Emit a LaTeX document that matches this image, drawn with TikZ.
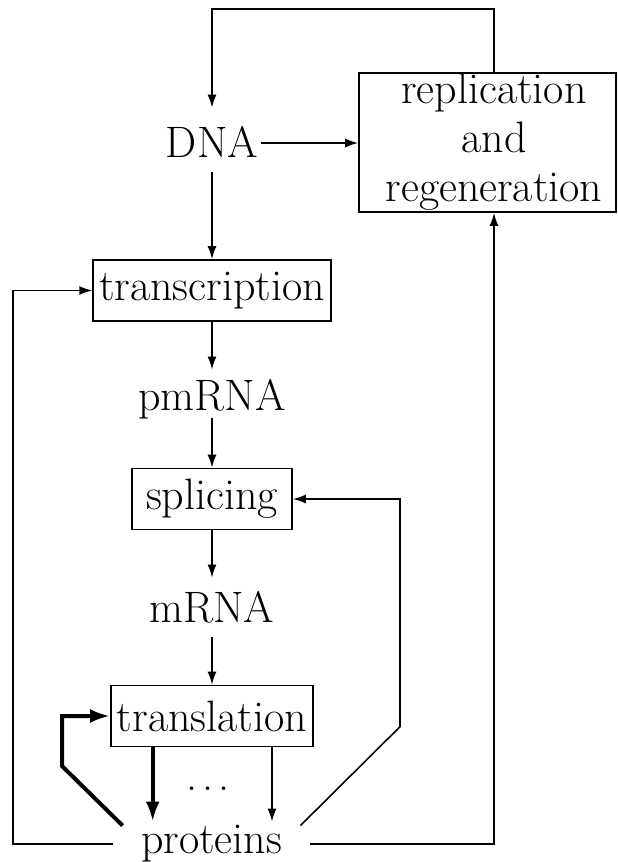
\documentclass[tikz,border=0pt]{standalone}
\usetikzlibrary{arrows.meta}
\begin{document}
\begin{tikzpicture}[x=0.5pt,y=-0.5pt,
  every node/.style={font=\fontsize{22}{24.5}\selectfont},
  procbox/.style={draw,line width=0.8pt,inner xsep=3pt,inner ysep=0pt,minimum height=30.5pt},
  term/.style={inner sep=0pt,anchor=base},
  flow/.style={line width=0.8pt,-{Latex[length=6.5pt,width=4.5pt]}},
  strong/.style={line width=2pt,-{Latex[length=10pt,width=7pt]}}]
\useasboundingbox (0,0) rectangle (617,862);

% main chain
\node[term,inner xsep=1.5pt,text height=24.5pt,text depth=7.5pt] (dna) at (212,157) {DNA};
\node[procbox] (transcription) at (212,290.5) {transcription};
\node[term,text height=20pt,text depth=4pt] (pmrna) at (212,410) {pmRNA};
\node[procbox,minimum width=80pt] (splicing) at (212,499) {splicing};
\node[term,text height=22pt,text depth=7.5pt] (mrna) at (212,622) {mRNA};
\node[procbox] (translation) at (212,716) {translation};
\node[term,minimum width=98.5pt,text height=15.5pt,text depth=4pt] (proteins) at (211.5,853) {proteins};
\node[term] (dots) at (208,790) {.\kern2.6pt.\kern2.6pt.};

% replication box
\node[draw,line width=0.8pt,inner sep=0pt,minimum width=128.5pt,minimum height=69.5pt] (rep) at (487.5,142.5) {};
\node[align=center,inner sep=0pt] (replabel) at (494,142) {replication\\and\\regeneration};

% helper points of the feedback loops
\coordinate (top) at (212,9);
\coordinate (leftc) at (13,844);
\coordinate (rbend) at (400,726.7);
\coordinate (lbend) at (62,766);
\coordinate (thickx) at (152.7,0);
\coordinate (thinx) at (272,0);
\coordinate (dnaout) at ([yshift=-1.5pt]dna.east);

% vertical chain
\draw[flow] (dna) -- (transcription);
\draw[flow] (transcription) -- (pmrna);
\draw[flow] (pmrna) -- (splicing);
\draw[flow] (splicing) -- (mrna);
\draw[flow] (mrna) -- (translation);

% DNA and replication
\draw[flow] (dnaout) -- (rep.west |- dnaout);
\draw[flow] (replabel.center |- rep.north) |- (top) -- (dna.north);
\draw[flow] ([yshift=4.5pt]proteins.base east) -| (replabel.center |- rep.south);

% feedback into transcription and splicing
\draw[flow] ([yshift=4.5pt]proteins.base west) -- (leftc) |- (transcription.west);
\draw[flow] ([xshift=-5pt,yshift=-2pt]proteins.north east) -- (rbend) -- (rbend |- splicing.east) -- (splicing.east);

% translation to proteins
\draw[strong] (translation.south -| thickx) -- (proteins.north -| thickx);
\draw[flow] (translation.south -| thinx) -- (proteins.north -| thinx);
\draw[strong] ([xshift=5pt,yshift=-2pt]proteins.north west) -- (lbend) -- (lbend |- translation.west) -- (translation.west);
\end{tikzpicture}
\end{document}
